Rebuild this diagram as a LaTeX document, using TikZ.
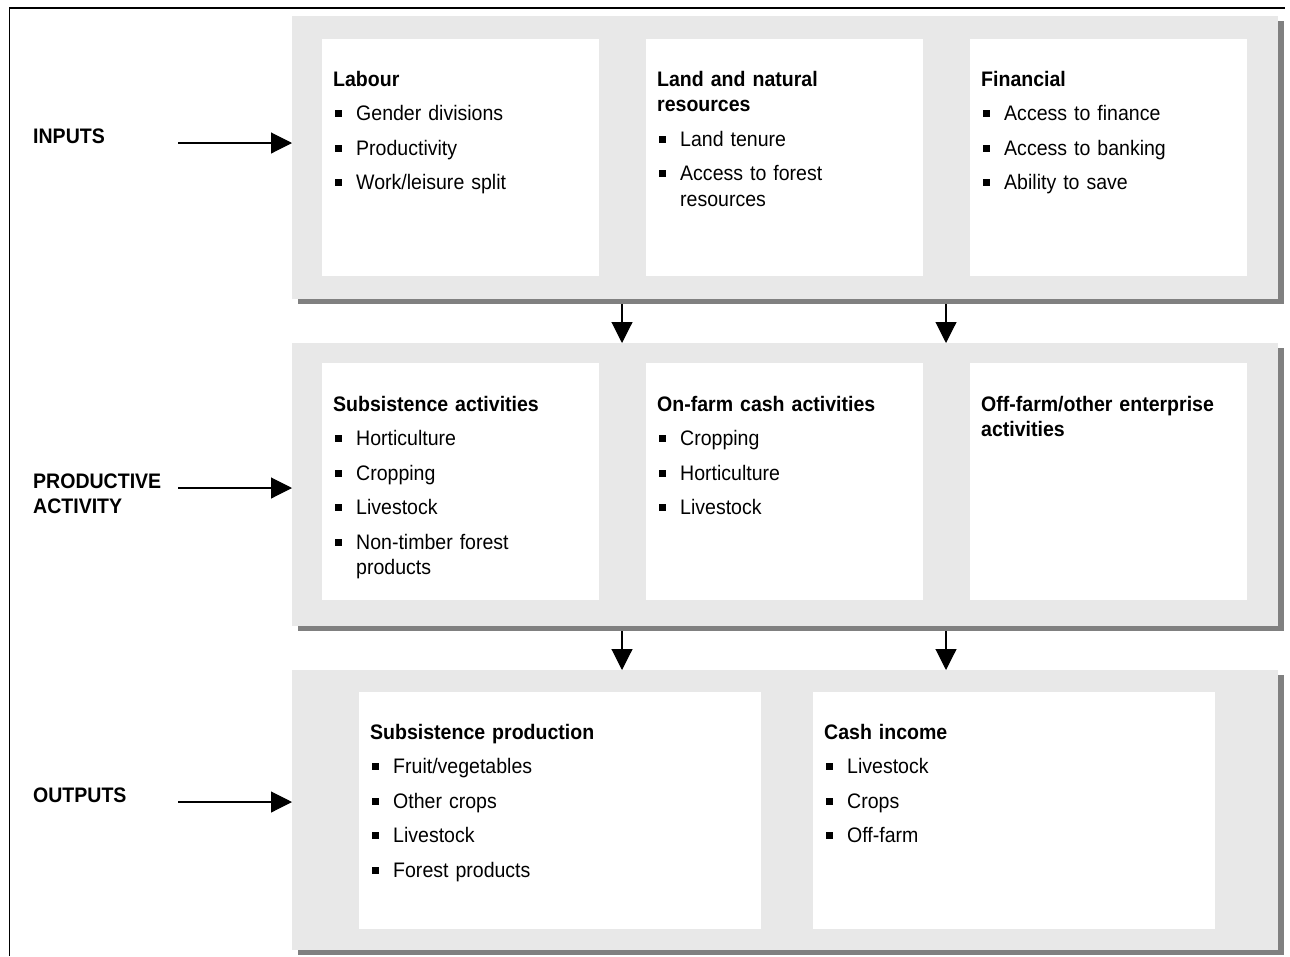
\documentclass[tikz,border=0pt]{standalone}
\usepackage{fontspec}
\setmainfont{Liberation Sans}[FakeStretch=0.93]
\usetikzlibrary{arrows.meta,positioning,shadows}
\definecolor{panelgray}{HTML}{E8E8E8}
\definecolor{shadowgray}{HTML}{808080}
\newcommand{\bul}{\rule[3.2pt]{7pt}{7pt}}
\newcommand{\itm}[1]{\par\vspace{9pt}\noindent\makebox[23pt][l]{\hspace{2pt}\bul}\parbox[t]{\dimexpr\linewidth-23pt\relax}{\raggedright #1}}
\tikzset{
    panel/.style={fill=panelgray,anchor=north west,inner sep=0,minimum height=283,minimum width=986,
        drop shadow={shadow xshift=6pt,shadow yshift=-5pt,fill=shadowgray,opacity=1}},
    wbox/.style={fill=white,anchor=north west,inner sep=0,minimum height=237},
    txt/.style={anchor=base west,inner sep=0,align=left,font=\fontsize{21}{25.5}\selectfont},
    lbl/.style={anchor=base west,inner sep=0,align=left,text width=140,font=\fontsize{21}{25.5}\selectfont\bfseries},
    arr/.style={-{Triangle[length=21pt,width=21pt]},line width=1.1pt}
}
\begin{document}
\begin{tikzpicture}[x=1pt,y=-1pt]
        \useasboundingbox (0,0) rectangle (1290,956);
        \draw[line width=1.5pt] (9.5,956) -- (9.5,8) -- (1285,8);
        % grey bands
        \node[panel] (ptop) at (292,16) {};
        \node[panel] (pmid) at (292,343) {};
        \node[panel,minimum height=280] (pbot) at (292,670) {};
        % inputs
        \node[wbox,minimum width=277] (labour) at (322,39) {};
        \node[wbox,minimum width=277] (land) at (646,39) {};
        \node[wbox,minimum width=277] (finance) at (970,39) {};
        \node[txt,text width=255] (labourtxt) at (333,86) {\textbf{Labour}\itm{Gender divisions}\itm{Productivity}\itm{Work/leisure split}};
        \node[txt,text width=255] (landtxt) at (657,86) {\textbf{Land and natural\newline resources}\itm{Land tenure}\itm{Access to forest\newline resources}};
        \node[txt,text width=255] (financetxt) at (981,86) {\textbf{Financial}\itm{Access to finance}\itm{Access to banking}\itm{Ability to save}};
        % productive activity
        \node[wbox,minimum width=277] (subsist) at (322,363) {};
        \node[wbox,minimum width=277] (onfarm) at (646,363) {};
        \node[wbox,minimum width=277] (offfarm) at (970,363) {};
        \node[txt,text width=255] (subsisttxt) at (333,411) {\textbf{Subsistence activities}\itm{Horticulture}\itm{Cropping}\itm{Livestock}\itm{Non-timber forest\newline products}};
        \node[txt,text width=255] (onfarmtxt) at (657,411) {\textbf{On-farm cash activities}\itm{Cropping}\itm{Horticulture}\itm{Livestock}};
        \node[txt,text width=255] (offfarmtxt) at (981,411) {\textbf{Off-farm/other enterprise\newline activities}};
        % outputs
        \node[wbox,minimum width=402] (subprod) at (359,692) {};
        \node[wbox,minimum width=402] (cashinc) at (813,692) {};
        \node[txt,text width=380] (subprodtxt) at (370,739) {\textbf{Subsistence production}\itm{Fruit/vegetables}\itm{Other crops}\itm{Livestock}\itm{Forest products}};
        \node[txt,text width=380] (cashinctxt) at (824,739) {\textbf{Cash income}\itm{Livestock}\itm{Crops}\itm{Off-farm}};
        % row labels
        \node[lbl] (inputs) at (33,143) {INPUTS};
        \node[lbl] (activity) at (33,488) {PRODUCTIVE\newline ACTIVITY};
        \node[lbl] (outputs) at (33,802) {OUTPUTS};
        \coordinate (inA) at (178,143);
        \coordinate (inB) at (178,488);
        \coordinate (inC) at (178,802);
        \draw[arr] (inA) -- (inA -| ptop.west);
        \draw[arr] (inB) -- (inB -| pmid.west);
        \draw[arr] (inC) -- (inC -| pbot.west);
        % flow between bands
        \coordinate (gapA) at (622,0);
        \coordinate (gapB) at (946,0);
        \draw[arr] ([yshift=-5pt]ptop.south -| gapA) -- (pmid.north -| gapA);
        \draw[arr] ([yshift=-5pt]ptop.south -| gapB) -- (pmid.north -| gapB);
        \draw[arr] ([yshift=-5pt]pmid.south -| gapA) -- (pbot.north -| gapA);
        \draw[arr] ([yshift=-5pt]pmid.south -| gapB) -- (pbot.north -| gapB);
    \end{tikzpicture}
\end{document}
